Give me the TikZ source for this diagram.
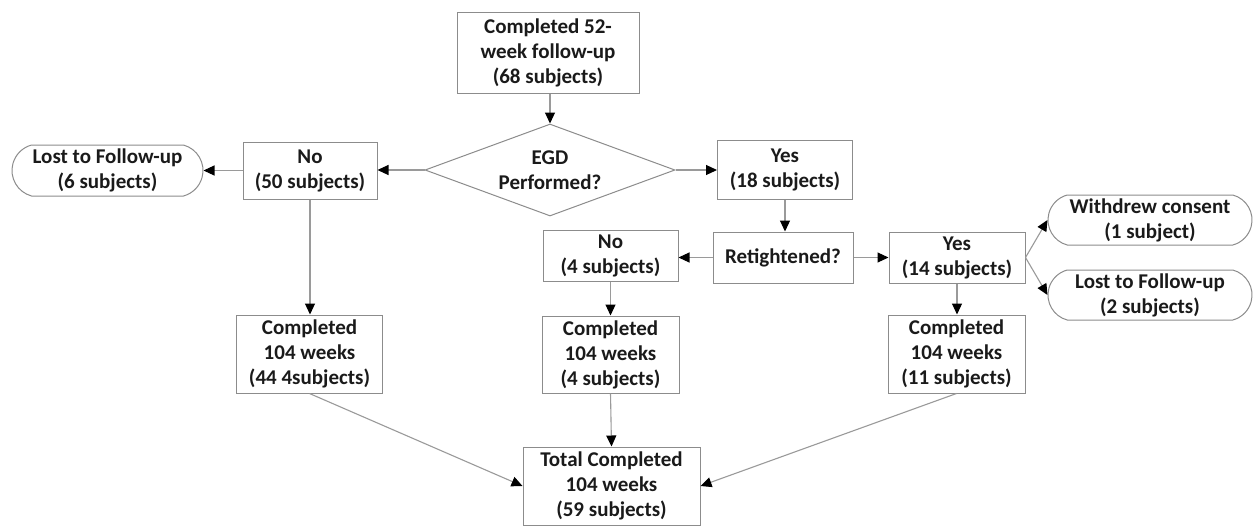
\documentclass[tikz,border=0pt]{standalone}
\usepackage{fontspec}
\setmainfont{Carlito}
\usetikzlibrary{shapes.geometric,shapes.misc,arrows.meta}
\definecolor{boxline}{HTML}{8C8C8C}
\definecolor{arrline}{HTML}{9A9A9A}
\definecolor{txt}{HTML}{1A1A1A}
\begin{document}
\begin{tikzpicture}[x=1pt,y=-1pt,
  every node/.style={font=\fontsize{21}{25}\selectfont\bfseries, text=txt, align=center, inner sep=0pt},
  box/.style={draw=boxline, line width=1pt, rectangle},
  pill/.style={draw=boxline, line width=1pt, rounded rectangle, rounded rectangle arc length=150},
  decision/.style={draw=boxline, line width=1pt, diamond, shape aspect=2.72},
  conn/.style={draw=arrline, line width=1.1pt, -{Triangle[length=11pt,width=10pt,black]}}
]
\useasboundingbox[fill=white] (0,0) rectangle (1255,525);

\node[box, minimum width=182pt, minimum height=81pt] (top) at (548,52.5) {Completed 52-\\week follow-up\\(68 subjects)};
\node[decision, minimum width=250pt, minimum height=92pt] (egd) at (550,170) {EGD\\Performed?};
\node[box, minimum width=134pt, minimum height=57pt] (no50) at (310,170.5) {No\\(50 subjects)};
\node[pill, minimum width=191pt, minimum height=51pt] (lost6) at (107.5,170.5) {Lost to Follow-up\\(6 subjects)};
\node[box, minimum width=135pt, minimum height=59pt] (yes18) at (785,170) {Yes\\(18 subjects)};
\node[box, minimum width=140pt, minimum height=51pt] (ret) at (783,257.5) {Retightened?};
\node[box, minimum width=135pt, minimum height=51pt] (no4) at (610.5,256) {No\\(4 subjects)};
\node[box, minimum width=136pt, minimum height=51pt] (yes14) at (957,257.5) {Yes\\(14 subjects)};
\node[pill, minimum width=204pt, minimum height=50pt] (withdrew) at (1150,220) {Withdrew consent\\(1 subject)};
\node[pill, minimum width=204pt, minimum height=50pt] (lost2) at (1150,295) {Lost to Follow-up\\(2 subjects)};
\node[box, minimum width=146pt, minimum height=78pt] (c44) at (309.5,354) {Completed\\104 weeks\\(44 4subjects)};
\node[box, minimum width=137pt, minimum height=77pt] (c4) at (610.5,354.5) {Completed\\104 weeks\\(4 subjects)};
\node[box, minimum width=137pt, minimum height=78pt] (c11) at (956.5,354) {Completed\\104 weeks\\(11 subjects)};
\node[box, minimum width=177pt, minimum height=78pt] (total) at (611.5,486) {Total Completed\\104 weeks\\(59 subjects)};

\draw[conn] (top.south -| egd.north) -- (egd.north);
\draw[conn] (egd.west) -- (egd.west -| no50.east);
\draw[conn] (no50.west) -- (lost6.east);
\draw[conn] (egd.east) -- (egd.east -| yes18.west);
\draw[conn] (yes18.south) -- (yes18.south |- ret.north);
\draw[conn] (ret.west) -- (ret.west -| no4.east);
\draw[conn] (ret.east) -- (yes14.west);
\draw[conn] (yes14.east) -- (withdrew.west);
\draw[conn] (yes14.east) -- (lost2.west);
\draw[conn] (no50.south) -- (no50.south |- c44.north);
\draw[conn] (no4.south) -- (c4.north);
\draw[conn] (yes14.south) -- (yes14.south |- c11.north);
\draw[conn] (c4.south) -- (total.north);
\draw[conn] (c44.south) -- (total.west);
\draw[conn] (c11.south) -- (total.east);
\end{tikzpicture}
\end{document}
